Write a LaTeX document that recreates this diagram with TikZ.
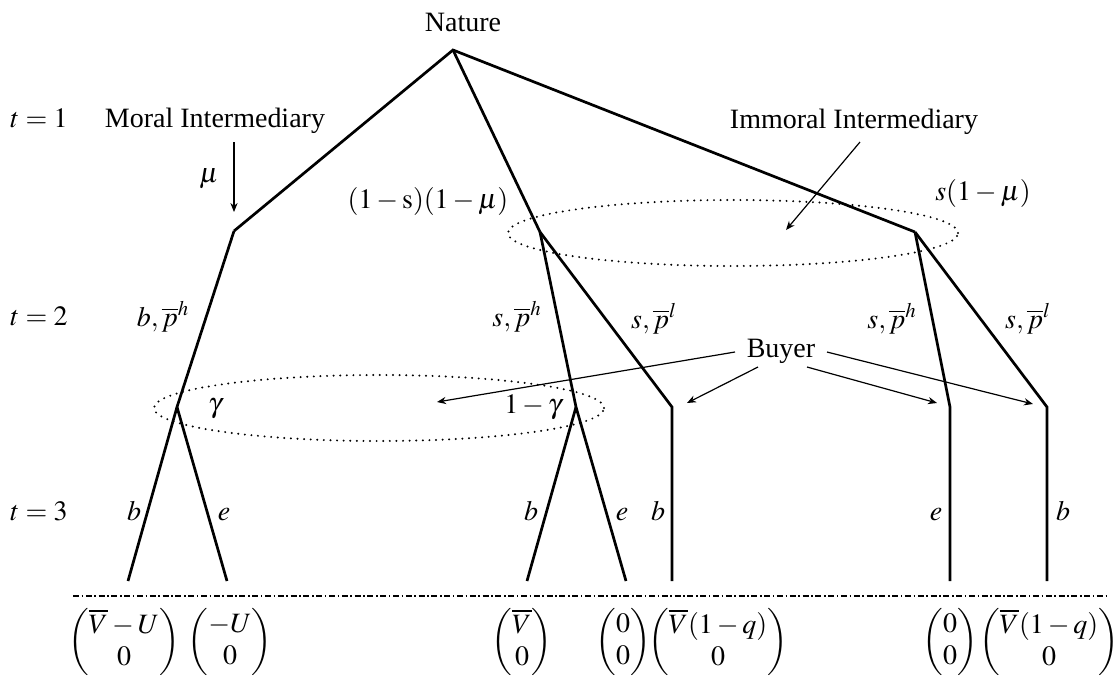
\documentclass[tikz,border=0pt]{standalone}
\usepackage{amsmath}
\usepackage{mathptmx}
\usepackage{fontspec}
\setmainfont{Liberation Serif}
\usetikzlibrary{arrows.meta,shapes.geometric}
\begin{document}
\begin{tikzpicture}[x=0.5pt,y=-0.5pt,
  every node/.style={font=\fontsize{14}{16}\selectfont, inner sep=0pt, outer sep=0pt},
  tree/.style={line width=1.35pt, line join=miter},
  pointer/.style={line width=0.6pt, -{Stealth[length=4.5pt,width=3.6pt]}},
  infoset/.style={draw, ellipse, line width=1.1pt, line cap=round, dash pattern=on 0pt off 3.3pt},
  ground/.style={line width=0.6pt, dash pattern=on 3pt off 1.3pt on 0.8pt off 1.3pt},
  lbl/.style={anchor=base}]

\useasboundingbox (0,0) rectangle (1116,677);

% decision nodes
\coordinate (root) at (453,50);
\coordinate (M) at (234,231);
\coordinate (A) at (540,232);
\coordinate (B) at (915,232);
\coordinate (G1) at (177,407);
\coordinate (G2) at (576,407);
\coordinate (N1) at (672,407);
\coordinate (N2) at (950,407);
\coordinate (N3) at (1047,407);
% leaves
\coordinate (L1) at (128,581);
\coordinate (L2) at (227,581);
\coordinate (L3) at (527,581);
\coordinate (L4) at (626,581);
\coordinate (L5) at (672,581);
\coordinate (L6) at (950,581);
\coordinate (L7) at (1047,581);

% information sets
\node[infoset, minimum width=225pt, minimum height=33pt] (immoralset) at (733,233) {};
\node[infoset, minimum width=225pt, minimum height=33pt] (buyerset) at (379,408) {};

% tree
\draw[tree] (M) -- (root) -- (B);
\draw[tree] (root) -- (A);
\draw[tree] (M) -- (G1) -- (L1);
\draw[tree] (G1) -- (L2);
\draw[tree] (A) -- (G2) -- (L4);
\draw[tree] (G2) -- (L3);
\draw[tree] (A) -- (N1) -- (L5);
\draw[tree] (B) -- (N2) -- (L6);
\draw[tree] (B) -- (N3) -- (L7);

% ground line
\coordinate (gL) at (73,596);
\coordinate (gR) at (1108,596);
\draw[ground] (gL) -- (gR);

% labels
\node[lbl] (nature) at (463,31) {Nature};
\node[lbl] (t1) at (39,127) {$t=1$};
\node[lbl] (t2) at (39,325) {$t=2$};
\node[lbl] (t3) at (39,520) {$t=3$};
\node[lbl] (moral) at (215,127) {Moral Intermediary};
\node[lbl] (immoral) at (854,128) {Immoral Intermediary};
\node[lbl] (buyer) at (781,357) {Buyer};
\node[lbl] (mu) at (209,182) {$\mu$};
\node[lbl] (pA) at (428,208) {$(1-\mathrm{s})(1-\mu)$};
\node[lbl] (pB) at (983,200) {$s(1-\mu)$};
\node[lbl] (a1) at (163,326) {$b,\overline{p}^h$};
\node[lbl] (a2) at (517,326) {$s,\overline{p}^h$};
\node[lbl] (a3) at (654,328) {$s,\overline{p}^l$};
\node[lbl] (a4) at (892,328) {$s,\overline{p}^h$};
\node[lbl] (a5) at (1028,328) {$s,\overline{p}^l$};
\node[lbl] (gam) at (215,412) {$\gamma$};
\node[lbl] (gam2) at (533,413) {$1-\gamma$};
\node[lbl] (c1) at (134,520) {$b$};
\node[lbl] (c2) at (224,520) {$e$};
\node[lbl] (c3) at (531,520) {$b$};
\node[lbl] (c4) at (622,520) {$e$};
\node[lbl] (c5) at (658,520) {$b$};
\node[lbl] (c6) at (936,520) {$e$};
\node[lbl] (c7) at (1063,520) {$b$};

% payoffs
\node (P1) at (124,642) {$\begin{pmatrix}\overline{V}-U\\0\end{pmatrix}$};
\node (P2) at (230,642) {$\begin{pmatrix}-U\\0\end{pmatrix}$};
\node (P3) at (522,642) {$\begin{pmatrix}\overline{V}\\0\end{pmatrix}$};
\node (P4) at (623,642) {$\begin{pmatrix}0\\0\end{pmatrix}$};
\node (P5) at (718,642) {$\begin{pmatrix}\overline{V}(1-q)\\0\end{pmatrix}$};
\node (P6) at (950,642) {$\begin{pmatrix}0\\0\end{pmatrix}$};
\node (P7) at (1049,642) {$\begin{pmatrix}\overline{V}(1-q)\\0\end{pmatrix}$};

% pointer arrows
\coordinate (muS) at (234,142);
\coordinate (muE) at (234,212);
\draw[pointer] (muS) -- (muE);
\coordinate (imS) at (860,142);
\coordinate (imE) at (786,230);
\draw[pointer] (imS) -- (imE);
\coordinate (b1S) at (735,352);
\coordinate (b1E) at (437,402);
\coordinate (b2S) at (758,367);
\coordinate (b2E) at (687,403);
\coordinate (b3S) at (807,367);
\coordinate (b3E) at (937,403);
\coordinate (b4S) at (827,352);
\coordinate (b4E) at (1033,404);
\draw[pointer] (b1S) -- (b1E);
\draw[pointer] (b2S) -- (b2E);
\draw[pointer] (b3S) -- (b3E);
\draw[pointer] (b4S) -- (b4E);
\end{tikzpicture}
\end{document}
